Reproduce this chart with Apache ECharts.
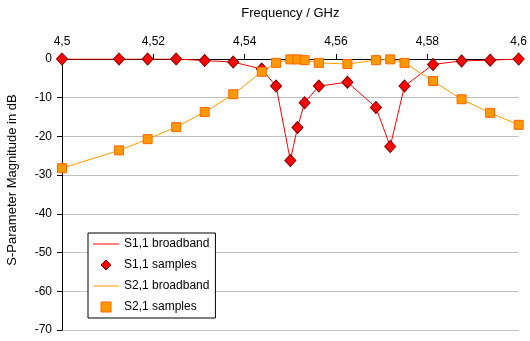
<!DOCTYPE html>
<html>
<head>
<meta charset="utf-8">
<script src="https://cdn.jsdelivr.net/npm/echarts@6/dist/echarts.min.js"></script>
<style>
  html, body { margin: 0; padding: 0; background: #fff; }
  #chart { width: 530px; height: 341px; }
</style>
</head>
<body>
<div id="chart"></div>
<script>
// Sample frequencies (GHz) shared by both S-parameters
const freqGHz = [4.5, 4.5125, 4.51875, 4.525, 4.53125, 4.5375, 4.54375, 4.546875,
  4.55, 4.5515625, 4.553125, 4.55625, 4.5625, 4.56875, 4.571875, 4.575,
  4.58125, 4.5875, 4.59375, 4.6];

// Magnitudes in dB
const s11dB = [0, 0, 0, 0, -0.4, -0.8, -2.6, -7.0,
  -26.2, -17.7, -11.3, -7.0, -6.0, -12.5, -22.6, -7.0,
  -1.4, -0.5, -0.3, 0];
const s21dB = [-28.2, -23.6, -20.7, -17.6, -13.7, -9.1, -3.3, -1.0,
  -0.1, -0.1, -0.3, -1.0, -1.3, -0.3, -0.1, -1.0,
  -5.7, -10.4, -13.9, -17.0];

const seriesNames = ['S1,1 broadband', 'S1,1 samples', 'S2,1 broadband', 'S2,1 samples'];
const xTitle = 'Frequency / GHz';
const yTitle = 'S-Parameter Magnitude in dB';

const FONT = '"Liberation Sans", Arial, sans-serif';
const pairs = (ys) => freqGHz.map((f, i) => [f, ys[i]]);

// Legend glyphs: thin strokes for the continuous curves, markers for the samples
const ICON_LINE = 'path://M0,0 H26 V1 H0 Z';
const ICON_DIAMOND = 'path://M5,0 L10,5 L5,10 L0,5 Z';
const ICON_SQUARE = 'path://M0,0 H9 V9 H0 Z';

const chart = echarts.init(document.getElementById('chart'), null, { renderer: 'canvas' });

chart.setOption({
  animation: false,
  backgroundColor: '#ffffff',
  textStyle: { fontFamily: FONT, color: '#000' },
  grid: { left: 62, right: 10, top: 59, bottom: 11, containLabel: false },
  xAxis: {
    type: 'value',
    position: 'top',
    min: 4.5, max: 4.6, interval: 0.02,
    name: xTitle,
    nameLocation: 'middle',
    nameGap: 39,
    nameTextStyle: { fontSize: 13, color: '#000', fontFamily: FONT },
    axisLine: { show: true, onZero: false, lineStyle: { color: '#000', width: 1 } },
    axisTick: { show: true, inside: false, length: 5, lineStyle: { color: '#000' } },
    axisLabel: {
      fontSize: 12, color: '#000', margin: 11, fontFamily: FONT,
      formatter: (v) => String(+v.toFixed(2)).replace('.', ',')
    },
    splitLine: { show: false }
  },
  yAxis: {
    type: 'value',
    min: -70, max: 0, interval: 10,
    axisLine: { show: true, onZero: false, lineStyle: { color: '#000', width: 1 } },
    axisTick: { show: true, inside: false, length: 5, lineStyle: { color: '#000' } },
    axisLabel: { fontSize: 12, color: '#000', margin: 10, fontFamily: FONT },
    splitLine: { show: true, lineStyle: { color: '#c0c0c0', width: 1 } }
  },
  graphic: [{
    type: 'text',
    x: 12, y: 180,
    rotation: Math.PI / 2,
    style: {
      text: yTitle,
      fontSize: 13, fontFamily: FONT, fill: '#000',
      textAlign: 'center', textVerticalAlign: 'middle'
    }
  }],
  legend: {
    orient: 'vertical',
    left: 88, top: 233,
    padding: [4, 6, 4, 5],
    itemGap: 7,
    itemWidth: 26,
    itemHeight: 10,
    symbolKeepAspect: true,
    textStyle: { fontSize: 12, color: '#000', fontFamily: FONT, lineHeight: 14 },
    backgroundColor: '#ffffff',
    borderColor: '#000',
    borderWidth: 1,
    borderRadius: 0,
    data: [
      { name: seriesNames[0], icon: ICON_LINE, itemStyle: { color: '#ff0000', borderWidth: 0 } },
      { name: seriesNames[1], icon: ICON_DIAMOND, itemStyle: { color: '#ff0000', borderColor: '#800000', borderWidth: 1 } },
      { name: seriesNames[2], icon: ICON_LINE, itemStyle: { color: '#ff9900', borderWidth: 0 } },
      { name: seriesNames[3], icon: ICON_SQUARE, itemStyle: { color: '#ff9900', borderColor: '#ff6600', borderWidth: 1 } }
    ]
  },
  series: [
    {
      name: seriesNames[0],
      type: 'line',
      data: pairs(s11dB),
      symbol: 'none',
      showSymbol: false,
      lineStyle: { color: '#ff0000', width: 1 },
      itemStyle: { color: '#ff0000' },
      z: 3
    },
    {
      name: seriesNames[1],
      type: 'scatter',
      data: pairs(s11dB),
      symbol: 'diamond',
      symbolSize: [11, 12],
      clip: false,
      itemStyle: { color: '#ff0000', borderColor: '#800000', borderWidth: 1, opacity: 1 },
      z: 4
    },
    {
      name: seriesNames[2],
      type: 'line',
      data: pairs(s21dB),
      symbol: 'none',
      showSymbol: false,
      lineStyle: { color: '#ff9900', width: 1 },
      itemStyle: { color: '#ff9900' },
      z: 5
    },
    {
      name: seriesNames[3],
      type: 'scatter',
      data: pairs(s21dB),
      symbol: 'rect',
      symbolSize: 9,
      clip: false,
      itemStyle: { color: '#ff9900', borderColor: '#ff6600', borderWidth: 1, opacity: 1 },
      z: 6
    }
  ]
});
</script>
</body>
</html>
